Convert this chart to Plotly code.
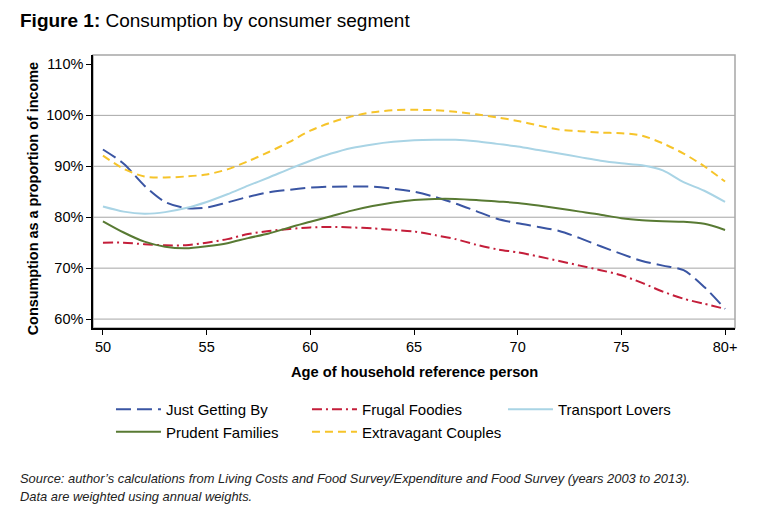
import plotly.graph_objects as go

ages = list(range(50, 81))
x_tick_vals = [50, 55, 60, 65, 70, 75, 80]
x_tick_text = ["50", "55", "60", "65", "70", "75", "80+"]
y_tick_vals = [60, 70, 80, 90, 100, 110]
y_tick_text = ["60%", "70%", "80%", "90%", "100%", "110%"]
grid_vals = [60, 70, 80, 90, 100]

just_getting_by = [93.3, 90.5, 86.2, 83.0, 81.8, 81.9, 82.9, 84.0, 84.9, 85.4, 85.8, 86.0, 86.05, 86.0, 85.6,
                   85.0, 84.0, 82.7, 81.2, 79.7, 78.8, 78.1, 77.3, 75.9, 74.3, 72.8, 71.4, 70.5, 69.6, 66.3, 62.0]
frugal_foodies = [75.0, 75.0, 74.7, 74.5, 74.5, 75.0, 75.7, 76.7, 77.3, 77.7, 78.0, 78.1, 78.0, 77.8, 77.5,
                  77.2, 76.5, 75.7, 74.6, 73.7, 73.1, 72.3, 71.4, 70.5, 69.6, 68.6, 67.1, 65.4, 64.0, 63.0, 62.0]
transport_lovers = [82.1, 81.1, 80.7, 81.0, 81.8, 83.0, 84.5, 86.2, 87.8, 89.5, 91.1, 92.5, 93.6, 94.3, 94.8,
                    95.1, 95.2, 95.2, 94.9, 94.4, 93.9, 93.2, 92.5, 91.8, 91.1, 90.6, 90.2, 89.2, 86.9, 85.2, 83.0]
prudent_families = [79.2, 77.0, 75.2, 74.2, 73.9, 74.3, 74.9, 75.9, 76.8, 78.0, 79.1, 80.2, 81.3, 82.2, 82.9,
                    83.4, 83.6, 83.6, 83.4, 83.1, 82.8, 82.3, 81.7, 81.1, 80.5, 79.8, 79.4, 79.2, 79.1, 78.7, 77.5]
extravagant_couples = [92.1, 89.5, 88.0, 87.8, 88.0, 88.4, 89.4, 91.0, 92.8, 94.8, 97.0, 98.6, 99.8, 100.6, 101.0,
                       101.1, 101.0, 100.7, 100.2, 99.6, 98.9, 98.0, 97.2, 96.9, 96.6, 96.5, 96.0, 94.5, 92.5, 90.0, 87.0]

series = [
    ("Just Getting By", just_getting_by, "#3A55A3", "15px,6px"),
    ("Frugal Foodies", frugal_foodies, "#C41E3A", "10px,4px,2px,4px"),
    ("Transport Lovers", transport_lovers, "#A9D4E5", "solid"),
    ("Prudent Families", prudent_families, "#587A33", "solid"),
    ("Extravagant Couples", extravagant_couples, "#F6C42A", "8px,5px"),
]

FONT = "Liberation Sans, Arial, Helvetica, sans-serif"

fig = go.Figure()
for name, vals, color, dash in series:
    fig.add_trace(go.Scatter(
        x=ages, y=vals, name=name, mode="lines",
        line=dict(color=color, width=2, dash=dash, shape="spline", smoothing=0.8),
    ))

shapes = []
for g in grid_vals:
    shapes.append(dict(type="line", xref="paper", yref="y", x0=0, x1=1, y0=g, y1=g,
                       line=dict(color="#A6A6A6", width=1), layer="below"))
shapes.append(dict(type="rect", xref="paper", yref="paper", x0=0, x1=1, y0=0, y1=1,
                   line=dict(color="#A6A6A6", width=1.5), layer="below"))

FOOT_FONT = dict(family=FONT, size=12.9, color="#222222")
annotations = [
    dict(text="Consumption as a proportion of income", textangle=-90, xref="paper", yref="paper",
         x=-0.0935, y=0.475, xanchor="center", yanchor="middle", showarrow=False,
         font=dict(family=FONT, size=14.4, color="#000000", weight="bold")),
    dict(text="Age of household reference person", xref="paper", yref="paper",
         x=0.5, y=-0.161, xanchor="center", yanchor="middle", showarrow=False,
         font=dict(family=FONT, size=14.7, color="#000000", weight="bold")),
    dict(text="<i>Source: author’s calculations from Living Costs and Food Survey/Expenditure and Food Survey (years 2003 to 2013).</i>",
         xref="paper", yref="paper", x=-0.117, y=-0.553, xanchor="left", yanchor="middle", showarrow=False,
         font=FOOT_FONT),
    dict(text="<i>Data are weighted using annual weights.</i>",
         xref="paper", yref="paper", x=-0.117, y=-0.619, xanchor="left", yanchor="middle", showarrow=False,
         font=FOOT_FONT),
]

fig.update_layout(
    width=755, height=511,
    margin=dict(l=85, r=28, t=47, b=191),
    paper_bgcolor="white", plot_bgcolor="white",
    font=dict(family=FONT, size=14, color="#000000"),
    title=dict(text="<b>Figure 1:</b> Consumption by consumer segment", x=0.0159, xref="container",
               xanchor="left", y=0.9765, yref="container", yanchor="middle",
               font=dict(family=FONT, size=19, color="#000000")),
    xaxis=dict(range=[49.52, 80.48], tickvals=x_tick_vals, ticktext=x_tick_text, showgrid=False,
               zeroline=False, showline=True, linecolor="#000000", linewidth=1.5,
               ticks="outside", ticklen=5, tickcolor="#000000", tickfont=dict(size=14.5)),
    yaxis=dict(range=[58.25, 111.85], tickvals=y_tick_vals, ticktext=y_tick_text, showgrid=False,
               zeroline=False, showline=True, linecolor="#000000", linewidth=1.5,
               ticks="outside", ticklen=5, tickcolor="#000000", tickfont=dict(size=14.5)),
    shapes=shapes,
    annotations=annotations,
    legend=dict(orientation="h", x=0.028, xanchor="left", y=-0.238, yanchor="top",
                entrywidth=136, entrywidthmode="pixels", font=dict(size=15),
                tracegroupgap=0, itemwidth=45, bgcolor="rgba(0,0,0,0)"),
    showlegend=True,
)

fig.write_html("out.html")
